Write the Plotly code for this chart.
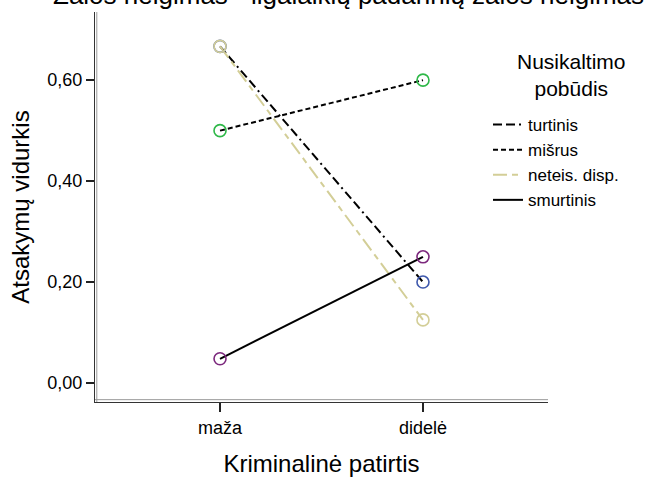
import plotly.graph_objects as go

categories = ["maža", "didelė"]
series_names = ["turtinis", "mišrus", "neteis. disp.", "smurtinis"]
turtinis = [0.667, 0.200]
misrus = [0.500, 0.600]
neteis = [0.667, 0.125]
smurtinis = [0.048, 0.250]
y_ticks = [0.0, 0.2, 0.4, 0.6]
y_tick_labels = ["0,00", "0,20", "0,40", "0,60"]
title_text = "Žalos neigimas - ilgalaikių padarinių žalos neigimas"

values = [turtinis, misrus, neteis, smurtinis]
marker_colors = ["#3E58AC", "#2EB848", "#D3CE97", "#7C287D"]
line_colors = ["#000000", "#000000", "#D3CE97", "#000000"]
dashes = ["9px,4px,9px,4px,2px,4px", "5px,3px", "14px,5px,6px,5px", "solid"]

font = "Liberation Sans, Arial, sans-serif"

fig = go.Figure()
# lines (shown in legend)
for name, vals, lc, d in zip(series_names, values, line_colors, dashes):
    fig.add_trace(go.Scatter(
        x=[0, 1], y=vals, name=name, mode="lines",
        line=dict(color=lc, width=2, dash=d),
        legendgroup=name,
    ))
# markers (not in legend)
for name, vals, mc in zip(series_names, values, marker_colors):
    fig.add_trace(go.Scatter(
        x=[0, 1], y=vals, name=name, mode="markers", showlegend=False,
        marker=dict(symbol="circle-open", size=12, color=mc, line=dict(width=1.6, color=mc)),
        legendgroup=name,
    ))

fig.update_layout(
    width=652, height=481,
    margin=dict(l=95, r=104, t=12, b=79),
    paper_bgcolor="white", plot_bgcolor="white",
    font=dict(family=font, color="black"),
    showlegend=True,
    legend=dict(
        x=(488 - 95) / 453, y=(402 - 107) / 390, xanchor="left", yanchor="top",
        bgcolor="rgba(0,0,0,0)",
        font=dict(size=17, family=font),
        traceorder="grouped", tracegroupgap=0,
        itemwidth=30,
    ),
    xaxis=dict(
        range=[-0.616, 1.616], tickmode="array", tickvals=[0, 1], ticktext=categories,
        showgrid=False, zeroline=False, showline=True, linecolor="#333", linewidth=1,
        ticks="outside", ticklen=9, tickwidth=2, tickcolor="#222",
        tickfont=dict(size=18), automargin=False,
        title=dict(text="Kriminalinė patirtis", font=dict(size=24), standoff=18),
    ),
    yaxis=dict(
        range=[-0.0376, 0.735], tickmode="array", tickvals=y_ticks, ticktext=y_tick_labels,
        showgrid=False, zeroline=False, showline=True, linecolor="#333", linewidth=1,
        ticks="outside", ticklen=8, tickwidth=2, tickcolor="#222",
        tickfont=dict(size=18), automargin=False,
        title=dict(text="Atsakymų vidurkis", font=dict(size=24), standoff=10),
    ),
    annotations=[
        dict(text="Nusikaltimo<br>pobūdis", xref="paper", yref="paper",
             x=(571 - 95) / 453, y=(402 - 48) / 390, xanchor="center", yanchor="top",
             showarrow=False, align="center", font=dict(size=21, family=font)),
        dict(text=title_text, xref="paper", yref="paper",
             x=(646 - 95) / 453, y=1 + (12 - 12) / 390, xanchor="right", yanchor="bottom",
             showarrow=False, align="left", font=dict(size=26, family=font)),
    ],
)

# inner second line (double-line axis frame)
fig.add_shape(type="line", xref="x domain", yref="y domain", x0=0.004, x1=0.004, y0=0, y1=1,
              line=dict(color="#999", width=1))
fig.add_shape(type="line", xref="x domain", yref="y domain", x0=0, x1=1, y0=0.006, y1=0.006,
              line=dict(color="#999", width=1))

fig.write_html("out.html", config={"displayModeBar": False},
               post_script="document.body.style.margin='0';document.body.style.overflow='hidden';")
